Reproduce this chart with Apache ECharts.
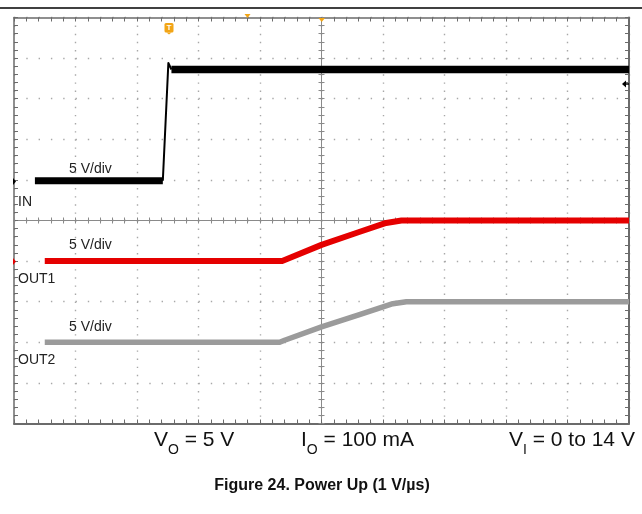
<!DOCTYPE html>
<html>
<head>
<meta charset="utf-8">
<script src="https://cdn.jsdelivr.net/npm/echarts@6/dist/echarts.min.js"></script>
<style>
  html, body { margin: 0; padding: 0; background: #fff; }
  #chart { width: 642px; height: 514px; }
</style>
</head>
<body>
<div id="chart"></div>
<script>
// Scope screen: 10 x 10 divisions, values in divisions from screen centre
const inX   = [-4.66, -2.58, -2.49, -2.44, 5.0];
const inY   = [0.98, 0.98, 3.88, 3.72, 3.72];
const out1X = [-4.50, -0.64, -0.56, 0.0, 0.6, 1.05, 1.3, 5.0];
const out1Y = [-1.0, -1.0, -0.95, -0.6, -0.29, -0.06, 0.0, 0.0];
const out2X = [-4.50, -0.68, -0.60, 0.0, 0.63, 1.16, 1.38, 5.0];
const out2Y = [-3.0, -3.0, -2.95, -2.62, -2.31, -2.05, -2.0, -2.0];
const channelLabels = ['IN', 'OUT1', 'OUT2'];
const scaleLabel = '5 V/div';
const titleText = 'Figure 24. Power Up (1 V/µs)';

const zip = (xs, ys) => xs.map((x, i) => [x, ys[i]]);
const inPts = zip(inX, inY);
const FONT = '"Liberation Sans", Arial, sans-serif';

const borderColor = '#6b6b6b';
const dotColor = '#a8a8a8';
const centreColor = '#8a8a8a';

function xAx(extra) {
  return Object.assign({
    type: 'value', min: -5, max: 5, interval: 1,
    axisLabel: { show: false },
    splitLine: { show: false }
  }, extra);
}
function yAx(extra) {
  return Object.assign({
    type: 'value', min: -5, max: 5, interval: 1,
    axisLabel: { show: false },
    splitLine: { show: false }
  }, extra);
}
const minor = (len, color) => ({ show: true, splitNumber: 5, length: len, lineStyle: { color: color, width: 1 } });
const lineSeries = (name, data, color, width, z) => ({
  name: name, type: 'line', xAxisIndex: 0, yAxisIndex: 0, data: data,
  showSymbol: false, symbol: 'none', lineStyle: { color: color, width: width, cap: 'butt', join: 'round' }, z: z
});

const chart = echarts.init(document.getElementById('chart'), null, { renderer: 'canvas' });

const subRich = {
  m: { fontSize: 21, fontFamily: FONT, lineHeight: 27, verticalAlign: 'top', fill: '#111' },
  s: { fontSize: 14, fontFamily: FONT, lineHeight: 14, verticalAlign: 'bottom', fill: '#111' }
};

const option = {
  animation: false,
  backgroundColor: '#ffffff',
  grid: { left: 14, right: 13, top: 17.5, bottom: 90.5, outerBoundsMode: 'none', containLabel: false },
  xAxis: [
    xAx({ position: 'bottom',
      axisLine: { show: true, onZero: false, lineStyle: { color: borderColor, width: 2 } },
      axisTick: { show: true, inside: true, length: 4, lineStyle: { color: borderColor } },
      minorTick: minor(4, borderColor),
      splitLine: { show: true, lineStyle: { color: dotColor, width: 1.4, type: [1.4, 6.72] } } }),
    xAx({ position: 'top',
      axisLine: { show: true, onZero: false, lineStyle: { color: borderColor, width: 1.5 } },
      axisTick: { show: true, inside: true, length: 4, lineStyle: { color: borderColor } },
      minorTick: minor(4, borderColor) }),
    xAx({ position: 'bottom',
      axisLine: { show: true, onZero: true, onZeroAxisIndex: 0, lineStyle: { color: centreColor, width: 1 } },
      axisTick: { show: true, inside: false, length: 3, lineStyle: { color: centreColor } },
      minorTick: minor(3, centreColor) }),
    xAx({ position: 'bottom',
      axisLine: { show: true, onZero: true, onZeroAxisIndex: 0, lineStyle: { color: centreColor, width: 1 } },
      axisTick: { show: true, inside: true, length: 3, lineStyle: { color: centreColor } },
      minorTick: minor(3, centreColor) })
  ],
  yAxis: [
    yAx({ position: 'left',
      axisLine: { show: true, onZero: false, lineStyle: { color: borderColor, width: 1.5 } },
      axisTick: { show: true, inside: true, length: 4, lineStyle: { color: borderColor } },
      minorTick: minor(4, borderColor),
      splitLine: { show: true, lineStyle: { color: dotColor, width: 1.4, type: [1.4, 10.9] } } }),
    yAx({ position: 'right',
      axisLine: { show: true, onZero: false, lineStyle: { color: borderColor, width: 2 } },
      axisTick: { show: true, inside: true, length: 4, lineStyle: { color: borderColor } },
      minorTick: minor(4, borderColor) }),
    yAx({ position: 'left',
      axisLine: { show: true, onZero: true, onZeroAxisIndex: 0, lineStyle: { color: centreColor, width: 1 } },
      axisTick: { show: true, inside: false, length: 3, lineStyle: { color: centreColor } },
      minorTick: minor(3, centreColor) }),
    yAx({ position: 'left',
      axisLine: { show: true, onZero: true, onZeroAxisIndex: 0, lineStyle: { color: centreColor, width: 1 } },
      axisTick: { show: true, inside: true, length: 3, lineStyle: { color: centreColor } },
      minorTick: minor(3, centreColor) })
  ],
  series: [
    lineSeries(channelLabels[2], zip(out2X, out2Y), '#9b9b9b', 5.5, 3),
    lineSeries(channelLabels[1], zip(out1X, out1Y), '#e50000', 6, 4),
    // IN: flat levels are noisy (thick), the fast edge is thin
    lineSeries(channelLabels[0], inPts.slice(0, 2), '#000000', 7, 5),
    lineSeries(channelLabels[0], inPts.slice(1, 4), '#000000', 2, 5),
    lineSeries(channelLabels[0], inPts.slice(3), '#000000', 7.5, 5)
  ],
  graphic: [
    // top rule
    { type: 'line', shape: { x1: 0, y1: 8, x2: 642, y2: 8 }, style: { stroke: '#000', lineWidth: 1.6 }, z: 10 },
    // trigger marker
    { type: 'group', x: 169, y: 23, z: 10, children: [
      { type: 'rect', shape: { x: -4.5, y: 0, width: 9, height: 9.5, r: 1.5 }, style: { fill: '#f2a516' } },
      { type: 'polygon', shape: { points: [[-2.5, 9.5], [2.5, 9.5], [0, 11.5]] }, style: { fill: '#f2a516' } },
      { type: 'text', x: 0, y: 5, style: { text: 'T', fill: '#fff', font: 'bold 8px ' + FONT, align: 'center', verticalAlign: 'middle' } }
    ]},
    { type: 'polygon', z: 10, shape: { points: [[244.5, 14], [250.5, 14], [247.5, 18]] }, style: { fill: '#f2a516' } },
    { type: 'polygon', z: 10, shape: { points: [[318.5, 18], [325, 18], [321.7, 22]] }, style: { fill: '#f2a516' } },
    // ground / level markers
    { type: 'polygon', z: 10, shape: { points: [[13, 178], [16, 181.5], [13, 185]] }, style: { fill: '#000' } },
    { type: 'polygon', z: 10, shape: { points: [[13, 258], [16, 261.5], [13, 265]] }, style: { fill: '#e50000' } },
    { type: 'polygon', z: 10, shape: { points: [[13, 339], [16, 342.5], [13, 346]] }, style: { fill: '#9b9b9b' } },
    { type: 'polygon', z: 10, shape: { points: [[622, 84], [626, 80.5], [626, 87.5]] }, style: { fill: '#000' } },
    { type: 'line', z: 10, shape: { x1: 624, y1: 84, x2: 629, y2: 84 }, style: { stroke: '#000', lineWidth: 1.5 } },
    // channel annotations
    { type: 'text', z: 10, x: 69, y: 169, style: { text: scaleLabel, fill: '#222', font: '14px ' + FONT, verticalAlign: 'middle' } },
    { type: 'text', z: 10, x: 18, y: 202, style: { text: channelLabels[0], fill: '#222', font: '14px ' + FONT, verticalAlign: 'middle' } },
    { type: 'text', z: 10, x: 69, y: 245, style: { text: scaleLabel, fill: '#222', font: '14px ' + FONT, verticalAlign: 'middle' } },
    { type: 'text', z: 10, x: 18, y: 279, style: { text: channelLabels[1], fill: '#222', font: '14px ' + FONT, verticalAlign: 'middle' } },
    { type: 'text', z: 10, x: 69, y: 327.5, style: { text: scaleLabel, fill: '#222', font: '14px ' + FONT, verticalAlign: 'middle' } },
    { type: 'text', z: 10, x: 18, y: 360.5, style: { text: channelLabels[2], fill: '#222', font: '14px ' + FONT, verticalAlign: 'middle' } },
    // conditions
    { type: 'text', z: 10, x: 154, y: 430, style: { text: '{m|V}{s|O}{m| = 5 V}', fill: '#111', rich: subRich } },
    { type: 'text', z: 10, x: 301, y: 430, style: { text: '{m|I}{s|O}{m| = 100 mA}', fill: '#111', rich: subRich } },
    { type: 'text', z: 10, x: 509, y: 430, style: { text: '{m|V}{s|I}{m| = 0 to 14 V}', fill: '#111', rich: subRich } },
    // caption
    { type: 'text', z: 10, x: 322, y: 486, style: { text: titleText, fill: '#111', font: 'bold 16px ' + FONT, align: 'center', verticalAlign: 'middle' } }
  ]
};
chart.setOption(option);
</script>
</body>
</html>
